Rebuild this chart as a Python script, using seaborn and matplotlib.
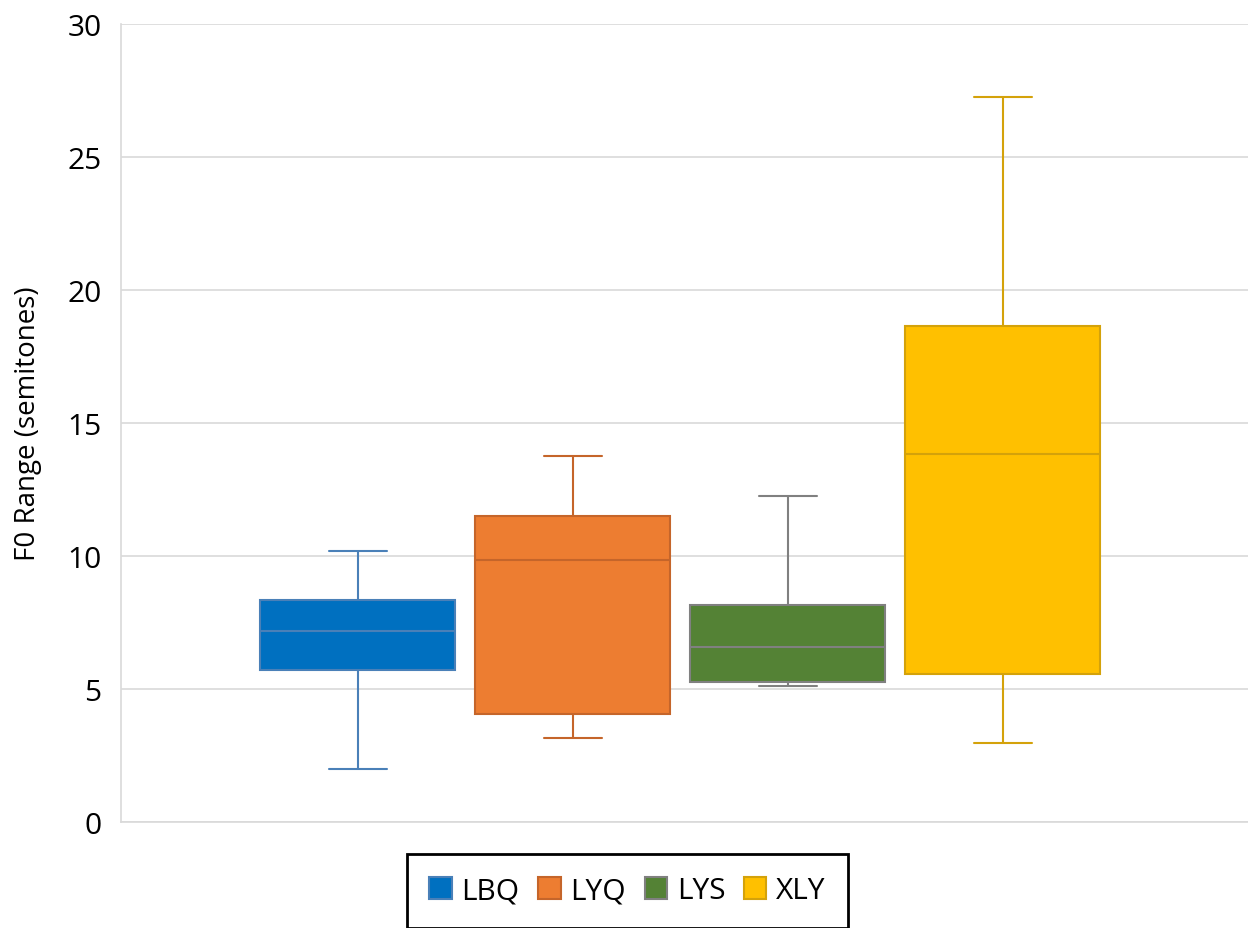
import numpy as np
import pandas as pd
import matplotlib
matplotlib.use("Agg")
import matplotlib.pyplot as plt
from matplotlib.patches import Patch
import seaborn as sns

groups = ["LBQ", "LYQ", "LYS", "XLY"]
# five-number summaries: min, Q1, median, Q3, max
lbq = [1.99, 5.71, 7.18, 8.35, 10.19]
lyq = [3.16, 4.06, 9.85, 11.50, 13.76]
lys = [5.11, 5.26, 6.58, 8.16, 12.26]
xly = [2.97, 5.56, 13.83, 18.65, 27.26]
fill_colors = ["#0070C0", "#ED7D31", "#548235", "#FFC000"]
line_colors = ["#4A80B8", "#C5652A", "#808080", "#D4A20A"]
yticks = [0, 5, 10, 15, 20, 25, 30]

values = {"LBQ": lbq, "LYQ": lyq, "LYS": lys, "XLY": xly}
df = pd.DataFrame([(g, v) for g in groups for v in values[g]], columns=["group", "value"])

sns.set_theme(style="white")
plt.rcParams["font.family"] = ["Open Sans", "DejaVu Sans"]

fig = plt.figure(figsize=(12.48, 9.29), dpi=100)
ax = fig.add_axes([121/1248, 1-823/929, 1-121/1248, (823-25)/929])

bw = 195/215
for g, fc, lc in zip(groups, fill_colors, line_colors):
    sns.boxplot(data=df[df["group"] == g], x="group", y="value", order=groups,
                color=fc, linecolor=lc, saturation=1, width=bw, whis=(0, 100),
                linewidth=1.5, capwidths=0.3*bw, showfliers=False, ax=ax)

ax.set_xlim(-1.102, (1248-358)/215)
ax.set_ylim(0, 30)
ax.set_yticks(yticks)
ax.set_yticklabels([str(t) for t in yticks], fontsize=21.5, color="#000000")
ax.set_xticks([])
ax.set_xlabel("")
ax.set_ylabel("F0 Range (semitones)", fontsize=20, color="#000000", labelpad=18)
ax.tick_params(axis="y", length=0, pad=14)
ax.yaxis.grid(True, color="#D9D9D9", linewidth=1.2)
ax.set_axisbelow(True)
for s in ["top", "right"]:
    ax.spines[s].set_visible(False)
for s in ["left", "bottom"]:
    ax.spines[s].set_color("#D9D9D9")
    ax.spines[s].set_linewidth(1.2)

handles = [Patch(facecolor=fc, edgecolor=lc, linewidth=1.5, label=g)
           for g, fc, lc in zip(groups, fill_colors, line_colors)]
leg = fig.legend(handles=handles, loc="upper center", bbox_to_anchor=(627.5/1248, 1-855/929),
                 ncol=4, fontsize=21.5, frameon=True, fancybox=False, edgecolor="#000000",
                 framealpha=1, labelcolor="#000000",
                 handlelength=0.75, handleheight=0.75, handletextpad=0.33, columnspacing=0.62,
                 borderpad=0.75, borderaxespad=0)
leg.get_frame().set_linewidth(2)

fig.savefig("out.png", dpi=100)
